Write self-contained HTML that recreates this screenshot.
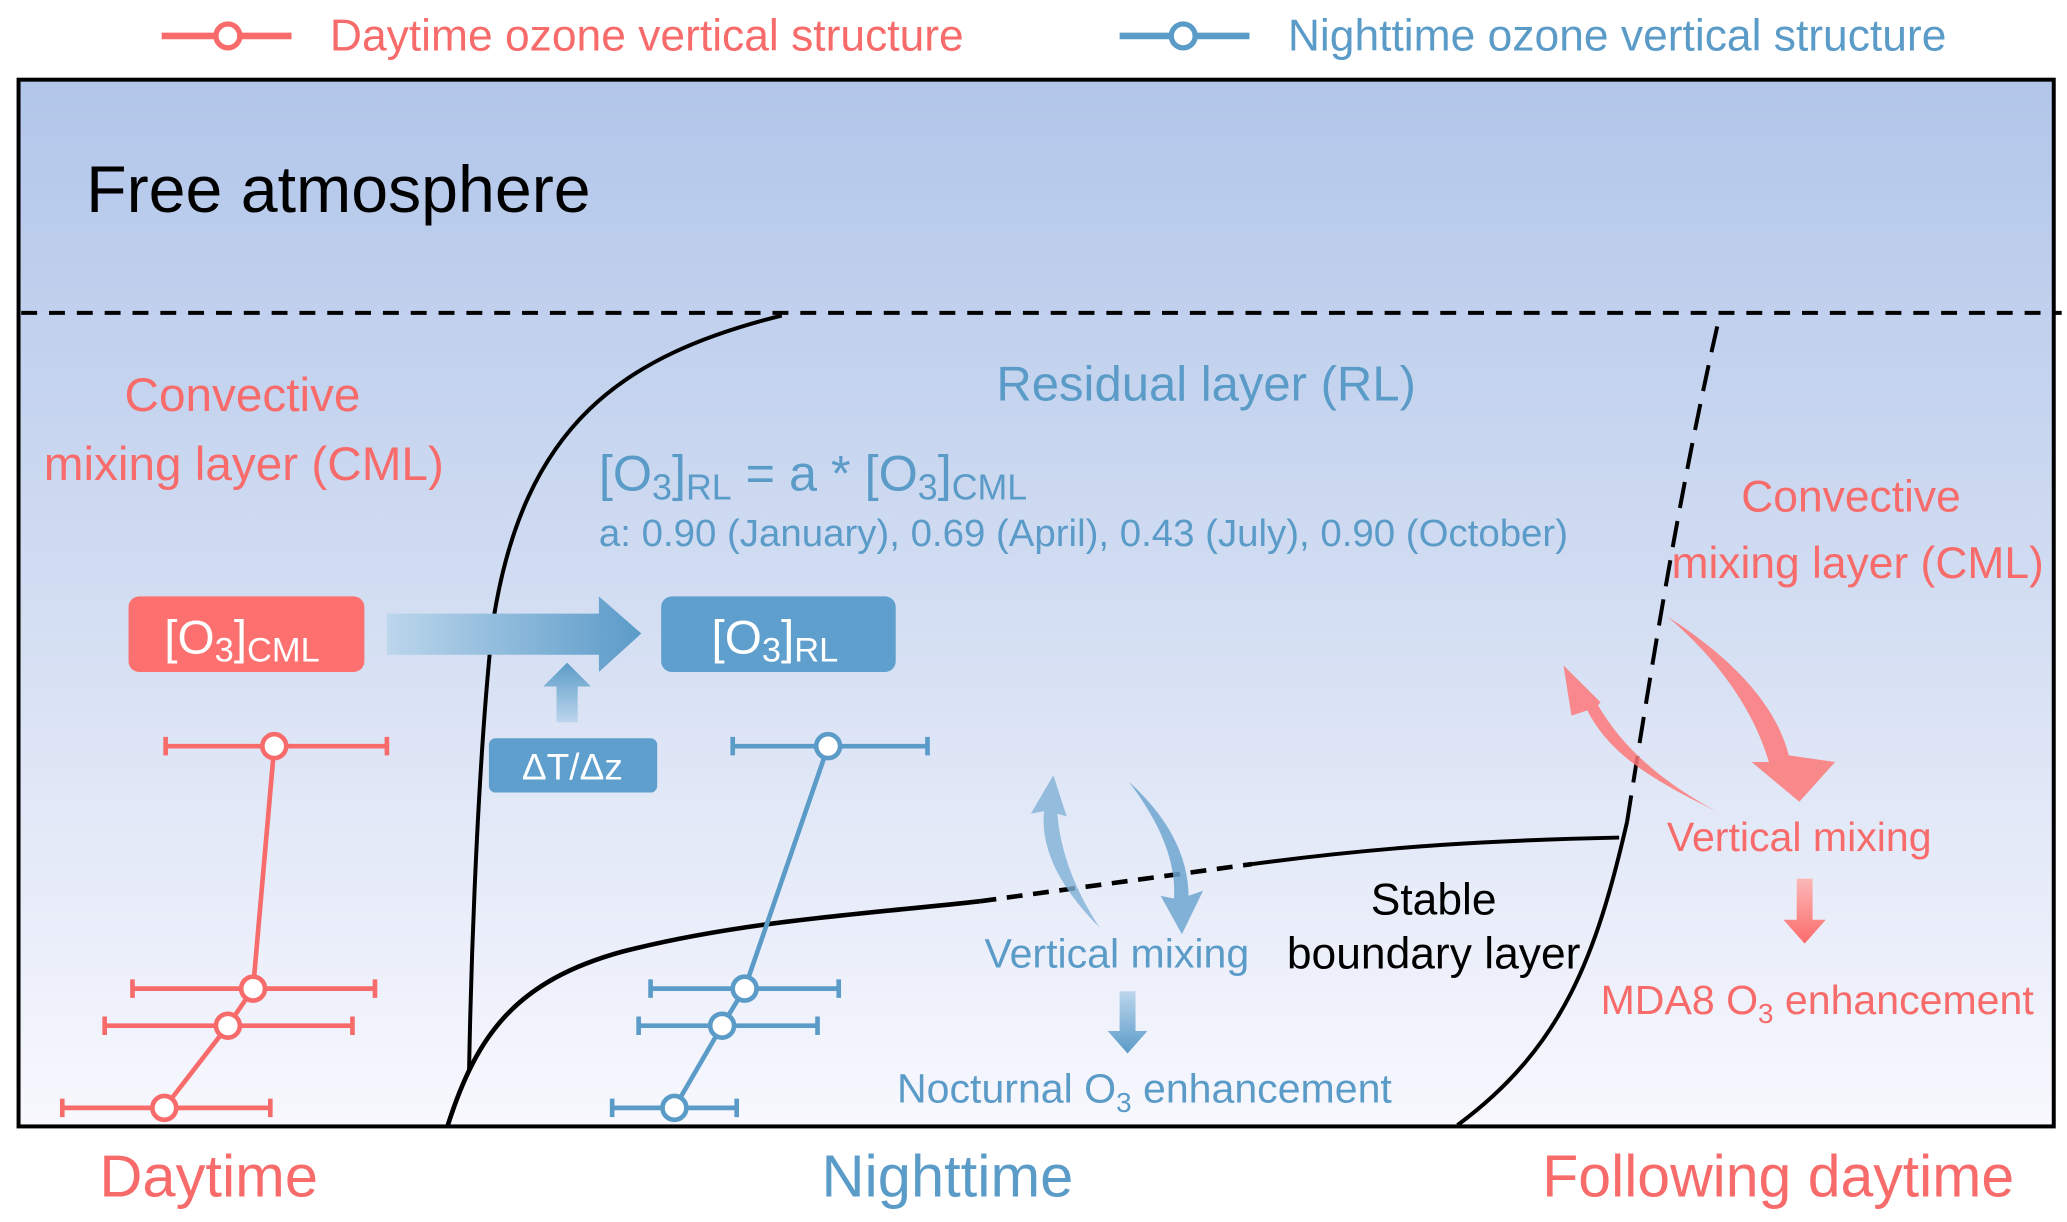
<!DOCTYPE html>
<html><head><meta charset="utf-8"><style>
html,body{margin:0;padding:0;background:#fff;}
svg{display:block;}
text{font-family:"Liberation Sans",Arial,sans-serif;}
</style></head><body>
<svg width="2067" height="1222" viewBox="0 0 1560 922" xmlns="http://www.w3.org/2000/svg">
<defs>
<linearGradient id="bg" x1="0" y1="0" x2="0" y2="1">
<stop offset="0" stop-color="#b2c6ea"/><stop offset="0.45" stop-color="#cfdbf1"/><stop offset="1" stop-color="#f8f8fe"/>
</linearGradient>
<linearGradient id="ar" x1="0" y1="0" x2="1" y2="0">
<stop offset="0" stop-color="#bcd6ec"/><stop offset="1" stop-color="#5b9bc8"/>
</linearGradient>
<linearGradient id="au" x1="0" y1="1" x2="0" y2="0">
<stop offset="0" stop-color="#bcd6ec"/><stop offset="1" stop-color="#5b9bc8"/>
</linearGradient>
<linearGradient id="ad" x1="0" y1="0" x2="0" y2="1">
<stop offset="0" stop-color="#bcd6ec"/><stop offset="1" stop-color="#5b9bc8"/>
</linearGradient>
<linearGradient id="rd" x1="0" y1="0" x2="0" y2="1">
<stop offset="0" stop-color="#fbb8b8"/><stop offset="1" stop-color="#fd6b6b"/>
</linearGradient>
</defs>
<!-- legend -->
<line x1="122" y1="27" x2="220" y2="27" stroke="#f76b6b" stroke-width="5"/>
<circle cx="172" cy="27" r="9" fill="#fff" stroke="#f76b6b" stroke-width="4"/>
<text x="249" y="38" font-size="33.5" fill="#f76b6b">Daytime ozone vertical structure</text>
<line x1="845" y1="27" x2="943" y2="27" stroke="#5b9bc8" stroke-width="5"/>
<circle cx="893" cy="27" r="9" fill="#fff" stroke="#5b9bc8" stroke-width="4"/>
<text x="972" y="38" font-size="33.5" fill="#5b9bc8">Nighttime ozone vertical structure</text>
<!-- box -->
<rect x="14" y="60" width="1536" height="790" fill="url(#bg)" stroke="#000" stroke-width="3"/>
<line x1="16" y1="236" x2="1556" y2="236" stroke="#000" stroke-width="3" stroke-dasharray="12,9"/>
<text x="65" y="160" font-size="50" fill="#000">Free atmosphere</text>
<!-- curves -->
<path d="M590,238 C470,268 395,320 372,470 C362,560 356,700 354,808" fill="none" stroke="#000" stroke-width="3"/>
<path d="M338,849 C360,780 390,740 470,718 C560,695 650,690 740,680" fill="none" stroke="#000" stroke-width="3.5"/>
<path d="M740,680 L945,652" fill="none" stroke="#000" stroke-width="3.5" stroke-dasharray="12,8"/>
<path d="M945,652 C1050,638 1130,634 1222,632" fill="none" stroke="#000" stroke-width="3"/>
<path d="M1100,849 C1180,790 1205,720 1228,620" fill="none" stroke="#000" stroke-width="3"/>
<path d="M1228,620 C1250,480 1270,360 1297,242" fill="none" stroke="#000" stroke-width="3" stroke-dasharray="20,10"/>
<!-- texts -->
<text x="183" y="310" font-size="36" fill="#f76b6b" text-anchor="middle">Convective</text>
<text x="184" y="362" font-size="36" fill="#f76b6b" text-anchor="middle">mixing layer (CML)</text>
<text x="752" y="302" font-size="37" fill="#5b9bc8">Residual layer (RL)</text>
<text x="452" y="370" font-size="38" fill="#5b9bc8">[O<tspan font-size="27" dy="7">3</tspan><tspan dy="-7">]</tspan><tspan font-size="27" dy="7">RL</tspan><tspan dy="-7"> = a * [O</tspan><tspan font-size="27" dy="7">3</tspan><tspan dy="-7">]</tspan><tspan font-size="27" dy="7">CML</tspan></text>
<text x="452" y="412" font-size="29" fill="#5b9bc8">a: 0.90 (January), 0.69 (April), 0.43 (July), 0.90 (October)</text>
<!-- boxes -->
<rect x="97" y="450" width="178" height="57" rx="8" fill="#fd7070"/>
<text x="124" y="493" font-size="36" fill="#fff">[O<tspan font-size="26" dy="6">3</tspan><tspan dy="-6">]</tspan><tspan font-size="26" dy="6">CML</tspan></text>
<path d="M292,463 L452,463 L452,450 L484,478 L452,507 L452,494 L292,494 Z" fill="url(#ar)"/>
<rect x="499" y="450" width="177" height="57" rx="8" fill="#5f9fcd"/>
<text x="537" y="493" font-size="36" fill="#fff">[O<tspan font-size="26" dy="6">3</tspan><tspan dy="-6">]</tspan><tspan font-size="26" dy="6">RL</tspan></text>
<path d="M420,545 L420,518 L410,518 L428,500 L446,518 L436,518 L436,545 Z" fill="url(#au)"/>
<rect x="369" y="557" width="127" height="41" rx="5" fill="#5f9fcd"/>
<text x="432" y="588" font-size="28" fill="#fff" text-anchor="middle">ΔT/Δz</text>
<!-- red profile -->
<g stroke="#f76b6b" stroke-width="3.5" fill="none">
<path d="M125,563 H292 M125,556 V570 M292,556 V570"/>
<path d="M100,746 H283 M100,739 V753 M283,739 V753"/>
<path d="M79,774 H266 M79,767 V781 M266,767 V781"/>
<path d="M47,836 H204 M47,829 V843 M204,829 V843"/>
<path d="M207,563 L191,746 L172,774 L124,836"/>
</g>
<g fill="#fff" stroke="#f76b6b" stroke-width="3.5">
<circle cx="207" cy="563" r="9"/><circle cx="191" cy="746" r="9"/><circle cx="172" cy="774" r="9"/><circle cx="124" cy="836" r="9"/>
</g>
<!-- blue profile -->
<g stroke="#5b9bc8" stroke-width="3.5" fill="none">
<path d="M553,563 H700 M553,556 V570 M700,556 V570"/>
<path d="M491,746 H633 M491,739 V753 M633,739 V753"/>
<path d="M482,774 H617 M482,767 V781 M617,767 V781"/>
<path d="M462,836 H556 M462,829 V843 M556,829 V843"/>
<path d="M625,563 L562,746 L545,774 L509,836"/>
</g>
<g fill="#fff" stroke="#5b9bc8" stroke-width="3.5">
<circle cx="625" cy="563" r="9"/><circle cx="562" cy="746" r="9"/><circle cx="545" cy="774" r="9"/><circle cx="509" cy="836" r="9"/>
</g>
<!-- blue curved arrows -->
<path d="M830,700 C800,670 785,640 788,612 L778,614 L795,585 L805,616 L798,614 C800,640 810,670 830,700 Z" fill="#7fb0d6" opacity="0.8"/>
<path d="M852,590 C875,620 888,650 886,678 L876,676 L892,705 L908,672 L897,676 C897,645 880,615 852,590 Z" fill="#6ea6d0" opacity="0.85"/>
<text x="743" y="730" font-size="31" fill="#5b9bc8">Vertical mixing</text>
<path d="M845,748 L857,748 L857,778 L866,778 L851,795 L836,778 L845,778 Z" fill="url(#ad)"/>
<text x="677" y="832" font-size="31" fill="#5b9bc8">Nocturnal O<tspan font-size="21" dy="7">3</tspan><tspan dy="-7"> enhancement</tspan></text>
<text x="1082" y="690" font-size="33.5" fill="#000" text-anchor="middle">Stable</text>
<text x="1082" y="731" font-size="33.5" fill="#000" text-anchor="middle">boundary layer</text>
<!-- right -->
<text x="1397" y="386" font-size="33.5" fill="#f76b6b" text-anchor="middle">Convective</text>
<text x="1402" y="436" font-size="33.5" fill="#f76b6b" text-anchor="middle">mixing layer (CML)</text>
<path d="M1295,612 C1250,590 1215,570 1198,536 L1186,540 L1180,502 L1208,530 L1206,532 C1225,565 1255,590 1295,612 Z" fill="#fd7878" opacity="0.85"/>
<path d="M1258,465 C1300,500 1325,540 1335,575 L1322,575 L1358,605 L1385,575 L1350,570 C1340,530 1305,495 1258,465 Z" fill="#fd7878" opacity="0.85"/>
<text x="1258" y="642" font-size="31" fill="#f76b6b">Vertical mixing</text>
<path d="M1356,663 L1368,663 L1368,694 L1378,694 L1362,712 L1346,694 L1356,694 Z" fill="url(#rd)"/>
<text x="1208" y="765" font-size="31" fill="#f76b6b">MDA8 O<tspan font-size="21" dy="7">3</tspan><tspan dy="-7"> enhancement</tspan></text>
<!-- bottom -->
<text x="75" y="903" font-size="45" fill="#f76b6b">Daytime</text>
<text x="620" y="903" font-size="45" fill="#5b9bc8">Nighttime</text>
<text x="1164" y="903" font-size="44.5" fill="#f76b6b">Following daytime</text>
</svg>
</body></html>
